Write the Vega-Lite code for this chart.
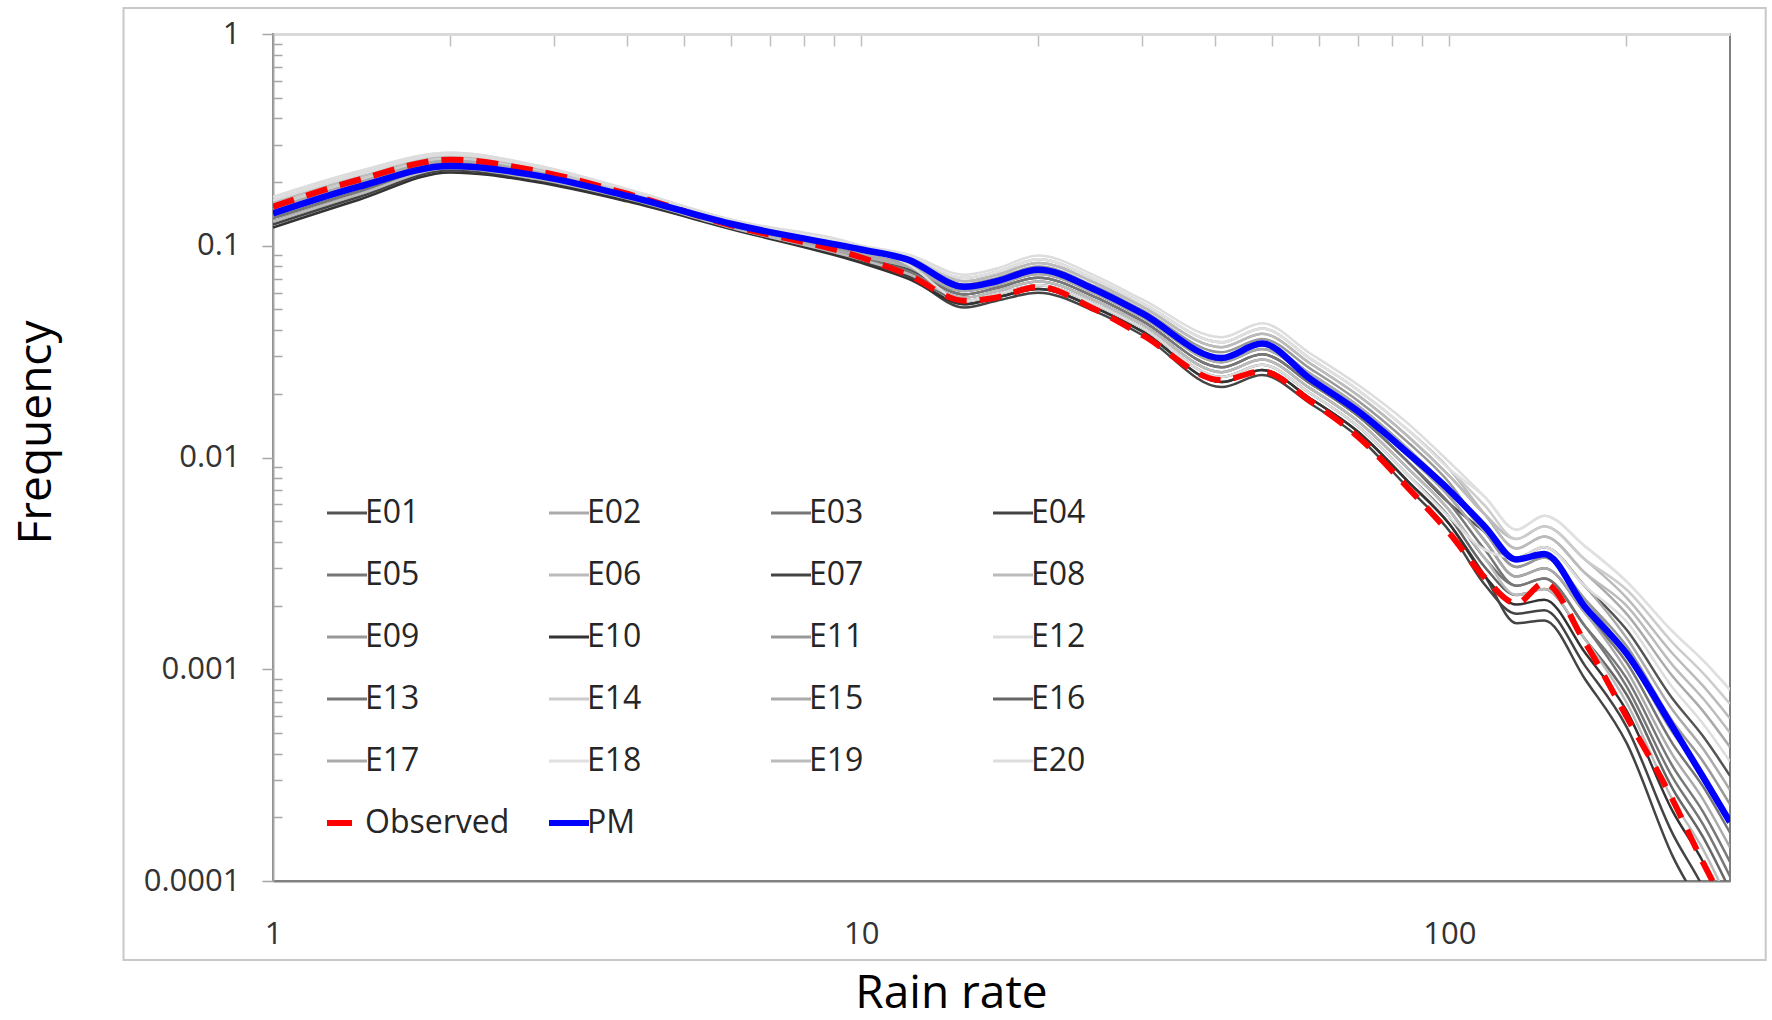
{
"$schema": "https://vega.github.io/schema/vega-lite/v6.json",
"width": 1457, "height": 847,
"autosize": {"type": "none"},
"padding": {"left": 273, "top": 34, "right": 42, "bottom": 139},
"background": "white",
"datasets": {"curves": [
{"s":"E01","x":1,"y":0.135},{"s":"E01","x":1.4,"y":0.181},{"s":"E01","x":2,"y":0.237},{"s":"E01","x":2.8,"y":0.211},{"s":"E01","x":4,"y":0.169},{"s":"E01","x":6,"y":0.124},{"s":"E01","x":10,"y":0.0878},{"s":"E01","x":12,"y":0.0777},{"s":"E01","x":15,"y":0.0589},{"s":"E01","x":17,"y":0.0633},{"s":"E01","x":20,"y":0.0706},{"s":"E01","x":25,"y":0.0572},{"s":"E01","x":30,"y":0.0443},{"s":"E01","x":41,"y":0.0267},{"s":"E01","x":48,"y":0.0307},{"s":"E01","x":58,"y":0.0224},{"s":"E01","x":70,"y":0.0157},{"s":"E01","x":85,"y":0.00953},{"s":"E01","x":100,"y":0.00607},{"s":"E01","x":115,"y":0.00444},{"s":"E01","x":130,"y":0.00336},{"s":"E01","x":145,"y":0.00377},{"s":"E01","x":170,"y":0.00247},{"s":"E01","x":200,"y":0.00154},{"s":"E01","x":240,"y":0.000721},{"s":"E01","x":270,"y":0.000482},{"s":"E01","x":300,"y":0.000314},
{"s":"E02","x":1,"y":0.154},{"s":"E02","x":1.4,"y":0.205},{"s":"E02","x":2,"y":0.258},{"s":"E02","x":2.8,"y":0.227},{"s":"E02","x":4,"y":0.178},{"s":"E02","x":6,"y":0.129},{"s":"E02","x":10,"y":0.0945},{"s":"E02","x":12,"y":0.0863},{"s":"E02","x":15,"y":0.068},{"s":"E02","x":17,"y":0.0728},{"s":"E02","x":20,"y":0.083},{"s":"E02","x":25,"y":0.0667},{"s":"E02","x":30,"y":0.0517},{"s":"E02","x":41,"y":0.0332},{"s":"E02","x":48,"y":0.0384},{"s":"E02","x":58,"y":0.0278},{"s":"E02","x":70,"y":0.0196},{"s":"E02","x":85,"y":0.0126},{"s":"E02","x":100,"y":0.00819},{"s":"E02","x":115,"y":0.00537},{"s":"E02","x":130,"y":0.00372},{"s":"E02","x":145,"y":0.00423},{"s":"E02","x":170,"y":0.00285},{"s":"E02","x":200,"y":0.00183},{"s":"E02","x":240,"y":0.000921},{"s":"E02","x":270,"y":0.000634},{"s":"E02","x":300,"y":0.000429},
{"s":"E03","x":1,"y":0.144},{"s":"E03","x":1.4,"y":0.193},{"s":"E03","x":2,"y":0.247},{"s":"E03","x":2.8,"y":0.219},{"s":"E03","x":4,"y":0.173},{"s":"E03","x":6,"y":0.126},{"s":"E03","x":10,"y":0.0911},{"s":"E03","x":12,"y":0.0798},{"s":"E03","x":15,"y":0.0611},{"s":"E03","x":17,"y":0.0655},{"s":"E03","x":20,"y":0.0735},{"s":"E03","x":25,"y":0.0594},{"s":"E03","x":30,"y":0.0461},{"s":"E03","x":41,"y":0.0282},{"s":"E03","x":48,"y":0.0325},{"s":"E03","x":58,"y":0.0236},{"s":"E03","x":70,"y":0.0166},{"s":"E03","x":85,"y":0.0102},{"s":"E03","x":100,"y":0.00654},{"s":"E03","x":115,"y":0.00403},{"s":"E03","x":130,"y":0.00274},{"s":"E03","x":145,"y":0.003},{"s":"E03","x":170,"y":0.00185},{"s":"E03","x":200,"y":0.00108},{"s":"E03","x":240,"y":0.000442},{"s":"E03","x":270,"y":0.000279},{"s":"E03","x":300,"y":0.000169},
{"s":"E04","x":1,"y":0.126},{"s":"E04","x":1.4,"y":0.170},{"s":"E04","x":2,"y":0.227},{"s":"E04","x":2.8,"y":0.204},{"s":"E04","x":4,"y":0.164},{"s":"E04","x":6,"y":0.121},{"s":"E04","x":10,"y":0.0846},{"s":"E04","x":12,"y":0.0719},{"s":"E04","x":15,"y":0.053},{"s":"E04","x":17,"y":0.057},{"s":"E04","x":20,"y":0.0625},{"s":"E04","x":25,"y":0.0509},{"s":"E04","x":30,"y":0.0395},{"s":"E04","x":41,"y":0.0227},{"s":"E04","x":48,"y":0.0259},{"s":"E04","x":58,"y":0.019},{"s":"E04","x":70,"y":0.0132},{"s":"E04","x":85,"y":0.00772},{"s":"E04","x":100,"y":0.00485},{"s":"E04","x":115,"y":0.00275},{"s":"E04","x":130,"y":0.00165},{"s":"E04","x":145,"y":0.0017},{"s":"E04","x":170,"y":0.0009},{"s":"E04","x":200,"y":0.00045},{"s":"E04","x":240,"y":0.00013},{"s":"E04","x":270,"y":0.0000708},{"s":"E04","x":300,"y":0.0000355},
{"s":"E05","x":1,"y":0.149},{"s":"E05","x":1.4,"y":0.199},{"s":"E05","x":2,"y":0.252},{"s":"E05","x":2.8,"y":0.223},{"s":"E05","x":4,"y":0.175},{"s":"E05","x":6,"y":0.128},{"s":"E05","x":10,"y":0.0928},{"s":"E05","x":12,"y":0.0798},{"s":"E05","x":15,"y":0.0589},{"s":"E05","x":17,"y":0.0633},{"s":"E05","x":20,"y":0.0706},{"s":"E05","x":25,"y":0.0572},{"s":"E05","x":30,"y":0.0443},{"s":"E05","x":41,"y":0.0267},{"s":"E05","x":48,"y":0.0307},{"s":"E05","x":58,"y":0.0224},{"s":"E05","x":70,"y":0.0157},{"s":"E05","x":85,"y":0.00953},{"s":"E05","x":100,"y":0.00607},{"s":"E05","x":115,"y":0.00366},{"s":"E05","x":130,"y":0.00248},{"s":"E05","x":145,"y":0.00268},{"s":"E05","x":170,"y":0.0016},{"s":"E05","x":200,"y":0.000908},{"s":"E05","x":240,"y":0.000346},{"s":"E05","x":270,"y":0.000212},{"s":"E05","x":300,"y":0.000123},
{"s":"E06","x":1,"y":0.164},{"s":"E06","x":1.4,"y":0.218},{"s":"E06","x":2,"y":0.269},{"s":"E06","x":2.8,"y":0.236},{"s":"E06","x":4,"y":0.183},{"s":"E06","x":6,"y":0.132},{"s":"E06","x":10,"y":0.0981},{"s":"E06","x":12,"y":0.0886},{"s":"E06","x":15,"y":0.068},{"s":"E06","x":17,"y":0.0728},{"s":"E06","x":20,"y":0.083},{"s":"E06","x":25,"y":0.0667},{"s":"E06","x":30,"y":0.0517},{"s":"E06","x":41,"y":0.0332},{"s":"E06","x":48,"y":0.0384},{"s":"E06","x":58,"y":0.0278},{"s":"E06","x":70,"y":0.0196},{"s":"E06","x":85,"y":0.0126},{"s":"E06","x":100,"y":0.00819},{"s":"E06","x":115,"y":0.00537},{"s":"E06","x":130,"y":0.00412},{"s":"E06","x":145,"y":0.00474},{"s":"E06","x":170,"y":0.0033},{"s":"E06","x":200,"y":0.00218},{"s":"E06","x":240,"y":0.00118},{"s":"E06","x":270,"y":0.000834},{"s":"E06","x":300,"y":0.000586},
{"s":"E07","x":1,"y":0.130},{"s":"E07","x":1.4,"y":0.175},{"s":"E07","x":2,"y":0.232},{"s":"E07","x":2.8,"y":0.207},{"s":"E07","x":4,"y":0.167},{"s":"E07","x":6,"y":0.122},{"s":"E07","x":10,"y":0.0861},{"s":"E07","x":12,"y":0.0719},{"s":"E07","x":15,"y":0.0511},{"s":"E07","x":17,"y":0.055},{"s":"E07","x":20,"y":0.060},{"s":"E07","x":25,"y":0.049},{"s":"E07","x":30,"y":0.038},{"s":"E07","x":41,"y":0.0215},{"s":"E07","x":48,"y":0.0245},{"s":"E07","x":58,"y":0.018},{"s":"E07","x":70,"y":0.0125},{"s":"E07","x":85,"y":0.0072},{"s":"E07","x":100,"y":0.0045},{"s":"E07","x":115,"y":0.0025},{"s":"E07","x":130,"y":0.00183},{"s":"E07","x":145,"y":0.0019},{"s":"E07","x":170,"y":0.00104},{"s":"E07","x":200,"y":0.000536},{"s":"E07","x":240,"y":0.000166},{"s":"E07","x":270,"y":0.0000931},{"s":"E07","x":300,"y":0.0000485},
{"s":"E08","x":1,"y":0.159},{"s":"E08","x":1.4,"y":0.211},{"s":"E08","x":2,"y":0.263},{"s":"E08","x":2.8,"y":0.231},{"s":"E08","x":4,"y":0.180},{"s":"E08","x":6,"y":0.130},{"s":"E08","x":10,"y":0.0963},{"s":"E08","x":12,"y":0.0863},{"s":"E08","x":15,"y":0.0704},{"s":"E08","x":17,"y":0.0754},{"s":"E08","x":20,"y":0.0864},{"s":"E08","x":25,"y":0.0693},{"s":"E08","x":30,"y":0.0538},{"s":"E08","x":41,"y":0.035},{"s":"E08","x":48,"y":0.0407},{"s":"E08","x":58,"y":0.0293},{"s":"E08","x":70,"y":0.0208},{"s":"E08","x":85,"y":0.0135},{"s":"E08","x":100,"y":0.00882},{"s":"E08","x":115,"y":0.00537},{"s":"E08","x":130,"y":0.00372},{"s":"E08","x":145,"y":0.00423},{"s":"E08","x":170,"y":0.00285},{"s":"E08","x":200,"y":0.002},{"s":"E08","x":240,"y":0.00104},{"s":"E08","x":270,"y":0.000727},{"s":"E08","x":300,"y":0.000501},
{"s":"E09","x":1,"y":0.139},{"s":"E09","x":1.4,"y":0.187},{"s":"E09","x":2,"y":0.242},{"s":"E09","x":2.8,"y":0.215},{"s":"E09","x":4,"y":0.171},{"s":"E09","x":6,"y":0.125},{"s":"E09","x":10,"y":0.0894},{"s":"E09","x":12,"y":0.0798},{"s":"E09","x":15,"y":0.0633},{"s":"E09","x":17,"y":0.0679},{"s":"E09","x":20,"y":0.0765},{"s":"E09","x":25,"y":0.0617},{"s":"E09","x":30,"y":0.0479},{"s":"E09","x":41,"y":0.0298},{"s":"E09","x":48,"y":0.0343},{"s":"E09","x":58,"y":0.0249},{"s":"E09","x":70,"y":0.0175},{"s":"E09","x":85,"y":0.011},{"s":"E09","x":100,"y":0.00705},{"s":"E09","x":115,"y":0.00444},{"s":"E09","x":130,"y":0.00304},{"s":"E09","x":145,"y":0.00337},{"s":"E09","x":170,"y":0.00214},{"s":"E09","x":200,"y":0.00129},{"s":"E09","x":240,"y":0.000564},{"s":"E09","x":270,"y":0.000367},{"s":"E09","x":300,"y":0.00023},
{"s":"E10","x":1,"y":0.122},{"s":"E10","x":1.4,"y":0.165},{"s":"E10","x":2,"y":0.222},{"s":"E10","x":2.8,"y":0.200},{"s":"E10","x":4,"y":0.162},{"s":"E10","x":6,"y":0.120},{"s":"E10","x":10,"y":0.083},{"s":"E10","x":12,"y":0.070},{"s":"E10","x":15,"y":0.053},{"s":"E10","x":17,"y":0.057},{"s":"E10","x":20,"y":0.0625},{"s":"E10","x":25,"y":0.0509},{"s":"E10","x":30,"y":0.0395},{"s":"E10","x":41,"y":0.0227},{"s":"E10","x":48,"y":0.0259},{"s":"E10","x":58,"y":0.019},{"s":"E10","x":70,"y":0.0132},{"s":"E10","x":85,"y":0.00772},{"s":"E10","x":100,"y":0.00485},{"s":"E10","x":115,"y":0.00275},{"s":"E10","x":130,"y":0.00202},{"s":"E10","x":145,"y":0.00213},{"s":"E10","x":170,"y":0.0012},{"s":"E10","x":200,"y":0.000639},{"s":"E10","x":240,"y":0.000212},{"s":"E10","x":270,"y":0.000123},{"s":"E10","x":300,"y":0.0000662},
{"s":"E11","x":1,"y":0.144},{"s":"E11","x":1.4,"y":0.193},{"s":"E11","x":2,"y":0.247},{"s":"E11","x":2.8,"y":0.219},{"s":"E11","x":4,"y":0.173},{"s":"E11","x":6,"y":0.126},{"s":"E11","x":10,"y":0.0911},{"s":"E11","x":12,"y":0.0819},{"s":"E11","x":15,"y":0.0656},{"s":"E11","x":17,"y":0.0703},{"s":"E11","x":20,"y":0.0797},{"s":"E11","x":25,"y":0.0642},{"s":"E11","x":30,"y":0.0498},{"s":"E11","x":41,"y":0.0314},{"s":"E11","x":48,"y":0.0363},{"s":"E11","x":58,"y":0.0263},{"s":"E11","x":70,"y":0.0185},{"s":"E11","x":85,"y":0.0118},{"s":"E11","x":100,"y":0.0076},{"s":"E11","x":115,"y":0.00444},{"s":"E11","x":130,"y":0.00304},{"s":"E11","x":145,"y":0.00337},{"s":"E11","x":170,"y":0.00214},{"s":"E11","x":200,"y":0.00118},{"s":"E11","x":240,"y":0.000499},{"s":"E11","x":270,"y":0.00032},{"s":"E11","x":300,"y":0.000197},
{"s":"E12","x":1,"y":0.164},{"s":"E12","x":1.4,"y":0.218},{"s":"E12","x":2,"y":0.269},{"s":"E12","x":2.8,"y":0.236},{"s":"E12","x":4,"y":0.183},{"s":"E12","x":6,"y":0.132},{"s":"E12","x":10,"y":0.0981},{"s":"E12","x":12,"y":0.091},{"s":"E12","x":15,"y":0.073},{"s":"E12","x":17,"y":0.0781},{"s":"E12","x":20,"y":0.090},{"s":"E12","x":25,"y":0.072},{"s":"E12","x":30,"y":0.0559},{"s":"E12","x":41,"y":0.037},{"s":"E12","x":48,"y":0.043},{"s":"E12","x":58,"y":0.031},{"s":"E12","x":70,"y":0.022},{"s":"E12","x":85,"y":0.0145},{"s":"E12","x":100,"y":0.00951},{"s":"E12","x":115,"y":0.0065},{"s":"E12","x":130,"y":0.00456},{"s":"E12","x":145,"y":0.00531},{"s":"E12","x":170,"y":0.00381},{"s":"E12","x":200,"y":0.0026},{"s":"E12","x":240,"y":0.0015},{"s":"E12","x":270,"y":0.0011},{"s":"E12","x":300,"y":0.0008},
{"s":"E13","x":1,"y":0.135},{"s":"E13","x":1.4,"y":0.181},{"s":"E13","x":2,"y":0.237},{"s":"E13","x":2.8,"y":0.211},{"s":"E13","x":4,"y":0.169},{"s":"E13","x":6,"y":0.124},{"s":"E13","x":10,"y":0.0878},{"s":"E13","x":12,"y":0.0757},{"s":"E13","x":15,"y":0.0569},{"s":"E13","x":17,"y":0.0611},{"s":"E13","x":20,"y":0.0678},{"s":"E13","x":25,"y":0.055},{"s":"E13","x":30,"y":0.0427},{"s":"E13","x":41,"y":0.0253},{"s":"E13","x":48,"y":0.029},{"s":"E13","x":58,"y":0.0212},{"s":"E13","x":70,"y":0.0148},{"s":"E13","x":85,"y":0.00888},{"s":"E13","x":100,"y":0.00563},{"s":"E13","x":115,"y":0.00333},{"s":"E13","x":130,"y":0.00248},{"s":"E13","x":145,"y":0.00268},{"s":"E13","x":170,"y":0.0016},{"s":"E13","x":200,"y":0.000832},{"s":"E13","x":240,"y":0.000306},{"s":"E13","x":270,"y":0.000185},{"s":"E13","x":300,"y":0.000105},
{"s":"E14","x":1,"y":0.154},{"s":"E14","x":1.4,"y":0.205},{"s":"E14","x":2,"y":0.258},{"s":"E14","x":2.8,"y":0.227},{"s":"E14","x":4,"y":0.178},{"s":"E14","x":6,"y":0.129},{"s":"E14","x":10,"y":0.0945},{"s":"E14","x":12,"y":0.0863},{"s":"E14","x":15,"y":0.0704},{"s":"E14","x":17,"y":0.0754},{"s":"E14","x":20,"y":0.0864},{"s":"E14","x":25,"y":0.0693},{"s":"E14","x":30,"y":0.0538},{"s":"E14","x":41,"y":0.035},{"s":"E14","x":48,"y":0.0407},{"s":"E14","x":58,"y":0.0293},{"s":"E14","x":70,"y":0.0208},{"s":"E14","x":85,"y":0.0135},{"s":"E14","x":100,"y":0.00882},{"s":"E14","x":115,"y":0.00591},{"s":"E14","x":130,"y":0.00412},{"s":"E14","x":145,"y":0.00474},{"s":"E14","x":170,"y":0.0033},{"s":"E14","x":200,"y":0.00238},{"s":"E14","x":240,"y":0.00133},{"s":"E14","x":270,"y":0.000958},{"s":"E14","x":300,"y":0.000685},
{"s":"E15","x":1,"y":0.149},{"s":"E15","x":1.4,"y":0.199},{"s":"E15","x":2,"y":0.252},{"s":"E15","x":2.8,"y":0.223},{"s":"E15","x":4,"y":0.175},{"s":"E15","x":6,"y":0.128},{"s":"E15","x":10,"y":0.0928},{"s":"E15","x":12,"y":0.0798},{"s":"E15","x":15,"y":0.0611},{"s":"E15","x":17,"y":0.0655},{"s":"E15","x":20,"y":0.0735},{"s":"E15","x":25,"y":0.0594},{"s":"E15","x":30,"y":0.0461},{"s":"E15","x":41,"y":0.0282},{"s":"E15","x":48,"y":0.0325},{"s":"E15","x":58,"y":0.0236},{"s":"E15","x":70,"y":0.0166},{"s":"E15","x":85,"y":0.0102},{"s":"E15","x":100,"y":0.00654},{"s":"E15","x":115,"y":0.00403},{"s":"E15","x":130,"y":0.00274},{"s":"E15","x":145,"y":0.003},{"s":"E15","x":170,"y":0.00185},{"s":"E15","x":200,"y":0.00099},{"s":"E15","x":240,"y":0.000391},{"s":"E15","x":270,"y":0.000243},{"s":"E15","x":300,"y":0.000144},
{"s":"E16","x":1,"y":0.130},{"s":"E16","x":1.4,"y":0.175},{"s":"E16","x":2,"y":0.232},{"s":"E16","x":2.8,"y":0.207},{"s":"E16","x":4,"y":0.167},{"s":"E16","x":6,"y":0.122},{"s":"E16","x":10,"y":0.0861},{"s":"E16","x":12,"y":0.0738},{"s":"E16","x":15,"y":0.0549},{"s":"E16","x":17,"y":0.059},{"s":"E16","x":20,"y":0.0651},{"s":"E16","x":25,"y":0.0529},{"s":"E16","x":30,"y":0.0411},{"s":"E16","x":41,"y":0.024},{"s":"E16","x":48,"y":0.0274},{"s":"E16","x":58,"y":0.0201},{"s":"E16","x":70,"y":0.014},{"s":"E16","x":85,"y":0.00828},{"s":"E16","x":100,"y":0.00523},{"s":"E16","x":115,"y":0.00303},{"s":"E16","x":130,"y":0.00224},{"s":"E16","x":145,"y":0.00239},{"s":"E16","x":170,"y":0.00139},{"s":"E16","x":200,"y":0.000762},{"s":"E16","x":240,"y":0.000271},{"s":"E16","x":270,"y":0.000161},{"s":"E16","x":300,"y":0.0000904},
{"s":"E17","x":1,"y":0.139},{"s":"E17","x":1.4,"y":0.187},{"s":"E17","x":2,"y":0.242},{"s":"E17","x":2.8,"y":0.215},{"s":"E17","x":4,"y":0.171},{"s":"E17","x":6,"y":0.125},{"s":"E17","x":10,"y":0.0894},{"s":"E17","x":12,"y":0.0798},{"s":"E17","x":15,"y":0.0633},{"s":"E17","x":17,"y":0.0679},{"s":"E17","x":20,"y":0.0765},{"s":"E17","x":25,"y":0.0617},{"s":"E17","x":30,"y":0.0479},{"s":"E17","x":41,"y":0.0298},{"s":"E17","x":48,"y":0.0343},{"s":"E17","x":58,"y":0.0249},{"s":"E17","x":70,"y":0.0175},{"s":"E17","x":85,"y":0.011},{"s":"E17","x":100,"y":0.00705},{"s":"E17","x":115,"y":0.00444},{"s":"E17","x":130,"y":0.00336},{"s":"E17","x":145,"y":0.00377},{"s":"E17","x":170,"y":0.00247},{"s":"E17","x":200,"y":0.00141},{"s":"E17","x":240,"y":0.000638},{"s":"E17","x":270,"y":0.000421},{"s":"E17","x":300,"y":0.000269},
{"s":"E18","x":1,"y":0.170},{"s":"E18","x":1.4,"y":0.225},{"s":"E18","x":2,"y":0.275},{"s":"E18","x":2.8,"y":0.240},{"s":"E18","x":4,"y":0.185},{"s":"E18","x":6,"y":0.133},{"s":"E18","x":10,"y":0.0999},{"s":"E18","x":12,"y":0.091},{"s":"E18","x":15,"y":0.0704},{"s":"E18","x":17,"y":0.0754},{"s":"E18","x":20,"y":0.0864},{"s":"E18","x":25,"y":0.0693},{"s":"E18","x":30,"y":0.0538},{"s":"E18","x":41,"y":0.035},{"s":"E18","x":48,"y":0.0407},{"s":"E18","x":58,"y":0.0293},{"s":"E18","x":70,"y":0.0208},{"s":"E18","x":85,"y":0.0135},{"s":"E18","x":100,"y":0.00882},{"s":"E18","x":115,"y":0.0065},{"s":"E18","x":130,"y":0.00456},{"s":"E18","x":145,"y":0.00531},{"s":"E18","x":170,"y":0.00381},{"s":"E18","x":200,"y":0.0026},{"s":"E18","x":240,"y":0.0015},{"s":"E18","x":270,"y":0.0011},{"s":"E18","x":300,"y":0.0008},
{"s":"E19","x":1,"y":0.130},{"s":"E19","x":1.4,"y":0.175},{"s":"E19","x":2,"y":0.232},{"s":"E19","x":2.8,"y":0.207},{"s":"E19","x":4,"y":0.167},{"s":"E19","x":6,"y":0.122},{"s":"E19","x":10,"y":0.0861},{"s":"E19","x":12,"y":0.0738},{"s":"E19","x":15,"y":0.0569},{"s":"E19","x":17,"y":0.0611},{"s":"E19","x":20,"y":0.0678},{"s":"E19","x":25,"y":0.055},{"s":"E19","x":30,"y":0.0427},{"s":"E19","x":41,"y":0.0253},{"s":"E19","x":48,"y":0.029},{"s":"E19","x":58,"y":0.0212},{"s":"E19","x":70,"y":0.0148},{"s":"E19","x":85,"y":0.00888},{"s":"E19","x":100,"y":0.00563},{"s":"E19","x":115,"y":0.00333},{"s":"E19","x":130,"y":0.00224},{"s":"E19","x":145,"y":0.00239},{"s":"E19","x":170,"y":0.00139},{"s":"E19","x":200,"y":0.000698},{"s":"E19","x":240,"y":0.00024},{"s":"E19","x":270,"y":0.000141},{"s":"E19","x":300,"y":0.0000774},
{"s":"E20","x":1,"y":0.170},{"s":"E20","x":1.4,"y":0.225},{"s":"E20","x":2,"y":0.275},{"s":"E20","x":2.8,"y":0.240},{"s":"E20","x":4,"y":0.185},{"s":"E20","x":6,"y":0.133},{"s":"E20","x":10,"y":0.0999},{"s":"E20","x":12,"y":0.0819},{"s":"E20","x":15,"y":0.0549},{"s":"E20","x":17,"y":0.059},{"s":"E20","x":20,"y":0.0651},{"s":"E20","x":25,"y":0.0529},{"s":"E20","x":30,"y":0.0411},{"s":"E20","x":41,"y":0.024},{"s":"E20","x":48,"y":0.0274},{"s":"E20","x":58,"y":0.0201},{"s":"E20","x":70,"y":0.014},{"s":"E20","x":85,"y":0.00828},{"s":"E20","x":100,"y":0.00523},{"s":"E20","x":115,"y":0.00366},{"s":"E20","x":130,"y":0.00336},{"s":"E20","x":145,"y":0.00377},{"s":"E20","x":170,"y":0.00247},{"s":"E20","x":200,"y":0.00168},{"s":"E20","x":240,"y":0.000815},{"s":"E20","x":270,"y":0.000553},{"s":"E20","x":300,"y":0.000367},
{"s":"Observed","x":1,"y":0.153},{"s":"Observed","x":1.4,"y":0.205},{"s":"Observed","x":2,"y":0.255},{"s":"Observed","x":2.8,"y":0.226},{"s":"Observed","x":4,"y":0.176},{"s":"Observed","x":6,"y":0.125},{"s":"Observed","x":10,"y":0.088},{"s":"Observed","x":12,"y":0.073},{"s":"Observed","x":15,"y":0.055},{"s":"Observed","x":17,"y":0.057},{"s":"Observed","x":20,"y":0.064},{"s":"Observed","x":25,"y":0.050},{"s":"Observed","x":30,"y":0.038},{"s":"Observed","x":41,"y":0.0232},{"s":"Observed","x":48,"y":0.0255},{"s":"Observed","x":58,"y":0.0185},{"s":"Observed","x":70,"y":0.0125},{"s":"Observed","x":85,"y":0.0072},{"s":"Observed","x":100,"y":0.0044},{"s":"Observed","x":115,"y":0.0027},{"s":"Observed","x":130,"y":0.00205},{"s":"Observed","x":145,"y":0.00255},{"s":"Observed","x":170,"y":0.00134},{"s":"Observed","x":200,"y":0.0006},{"s":"Observed","x":240,"y":0.00024},{"s":"Observed","x":270,"y":0.000122},{"s":"Observed","x":300,"y":0.00007},
{"s":"PM","x":1,"y":0.142},{"s":"PM","x":1.4,"y":0.190},{"s":"PM","x":2,"y":0.238},{"s":"PM","x":2.8,"y":0.215},{"s":"PM","x":4,"y":0.172},{"s":"PM","x":6,"y":0.127},{"s":"PM","x":10,"y":0.096},{"s":"PM","x":12,"y":0.086},{"s":"PM","x":15,"y":0.064},{"s":"PM","x":17,"y":0.068},{"s":"PM","x":20,"y":0.077},{"s":"PM","x":25,"y":0.062},{"s":"PM","x":30,"y":0.048},{"s":"PM","x":41,"y":0.0295},{"s":"PM","x":48,"y":0.0345},{"s":"PM","x":58,"y":0.0235},{"s":"PM","x":70,"y":0.0165},{"s":"PM","x":85,"y":0.0105},{"s":"PM","x":100,"y":0.0070},{"s":"PM","x":115,"y":0.0047},{"s":"PM","x":130,"y":0.0033},{"s":"PM","x":145,"y":0.0035},{"s":"PM","x":170,"y":0.00197},{"s":"PM","x":200,"y":0.00119},{"s":"PM","x":240,"y":0.00053},{"s":"PM","x":270,"y":0.00031},{"s":"PM","x":300,"y":0.00019}
]},
"data": {"name": "curves"},
"layer": [
  {
    "data": {"values": [{"frame": 1}]},
    "mark": {"type": "rect", "fill": "transparent", "stroke": "#c8c8c8", "strokeWidth": 2, "clip": false},
    "encoding": {
      "x": {"datum": 0.557, "type": "quantitative", "axis": null},
      "x2": {"datum": 345},
      "y": {"datum": 1.327, "type": "quantitative", "axis": null},
      "y2": {"datum": 0.0000424}
    }
  },
  {
    "transform": [{"filter": "datum.s !== 'Observed' && datum.s !== 'PM'"}],
    "mark": {"type": "line", "interpolate": "monotone", "strokeWidth": 2.5, "clip": true},
    "encoding": {
      "x": {"field": "x", "type": "quantitative",
        "scale": {"type": "log", "domain": [1, 300], "nice": false},
        "axis": {"orient": "bottom", "values": [1, 10, 100], "format": "~g", "ticks": false, "tickSize": 0,
          "labelPadding": 53, "labelBaseline": "middle", "labelFlush": false, "labelOverlap": false,
          "domainColor": "#808080", "domainWidth": 2,
          "title": "Rain rate", "titleX": 678, "titleY": 126, "titleAlign": "center", "titleBaseline": "alphabetic"}},
      "y": {"field": "y", "type": "quantitative",
        "scale": {"type": "log", "domain": [0.0001, 1], "nice": false},
        "axis": {"orient": "left", "values": [1, 0.1, 0.01, 0.001, 0.0001], "format": "~g",
          "tickSize": 11, "tickColor": "#a6a6a6", "tickWidth": 1.5, "labelPadding": 22, "labelOverlap": false, "labelFlush": false,
          "domainColor": "#a6a6a6", "domainWidth": 2,
          "title": "Frequency", "titleAngle": -90, "titleX": -223, "titleY": 398, "titleAlign": "center", "titleBaseline": "alphabetic"}},
      "color": {"field": "s", "type": "nominal",
        "scale": {"domain": ["E01","E02","E03","E04","E05","E06","E07","E08","E09","E10","E11","E12","E13","E14","E15","E16","E17","E18","E19","E20","Observed","PM"],
          "range": ["#555555","#aaaaaa","#777777","#444444","#777777","#bbbbbb","#444444","#bbbbbb","#999999","#333333","#999999","#dddddd","#777777","#cccccc","#aaaaaa","#666666","#aaaaaa","#e0e0e0","#bbbbbb","#dddddd","#ff0000","#0000ff"]},
        "legend": {"title": null, "orient": "none", "legendX": 58, "legendY": 463, "direction": "horizontal", "columns": 4, "gridAlign": "all",
          "columnPadding": 27, "rowPadding": 30, "symbolType": "stroke", "symbolSize": 1600, "labelOffset": 2,
          "labelFont": "Open Sans", "labelFontSize": 32, "labelColor": "#262626", "labelLimit": 400, "padding": 0,
          "encode": {"symbols": {"update": {
            "strokeWidth": {"signal": "datum.value === 'PM' || datum.value === 'Observed' ? 6 : 3"},
            "strokeDash": {"signal": "datum.value === 'Observed' ? [25, 20] : [1, 0]"}}}}}}
    }
  },
  {
    "transform": [{"filter": "datum.s === 'Observed'"}],
    "mark": {"type": "line", "interpolate": "monotone", "strokeWidth": 6, "strokeDash": [22, 13], "clip": true},
    "encoding": {
      "x": {"field": "x", "type": "quantitative",
        "axis": {"orient": "top", "values": [2,3,4,5,6,7,8,9,10,20,30,40,50,60,70,80,90,100,200], "labels": false,
          "tickSize": -12, "tickColor": "#bfbfbf", "tickWidth": 1.5, "domainColor": "#d9d9d9", "domainWidth": 3, "title": null}},
      "y": {"field": "y", "type": "quantitative",
        "axis": {"orient": "left", "values": [0.0002,0.0003,0.0004,0.0005,0.0006,0.0007,0.0008,0.0009,0.002,0.003,0.004,0.005,0.006,0.007,0.008,0.009,0.02,0.03,0.04,0.05,0.06,0.07,0.08,0.09,0.2,0.3,0.4,0.5,0.6,0.7,0.8,0.9],
          "labels": false, "tickSize": -9, "tickColor": "#a6a6a6", "tickWidth": 1.5, "domain": false, "title": null}},
      "color": {"field": "s", "type": "nominal"}
    }
  },
  {
    "transform": [{"filter": "datum.s === 'PM'"}],
    "mark": {"type": "line", "interpolate": "monotone", "strokeWidth": 6.5, "clip": true},
    "encoding": {
      "x": {"field": "x", "type": "quantitative", "axis": null},
      "y": {"field": "y", "type": "quantitative", "axis": null},
      "color": {"field": "s", "type": "nominal"}
    }
  }
],
"resolve": {"axis": {"x": "independent", "y": "independent"}},
"config": {
  "view": {"stroke": "#808080", "strokeWidth": 2},
  "axis": {"grid": false, "labelFont": "Open Sans", "labelFontSize": 31, "labelColor": "#333333",
    "titleFont": "Open Sans", "titleFontSize": 46, "titleFontWeight": "normal", "titleColor": "#000000"}
}
}
